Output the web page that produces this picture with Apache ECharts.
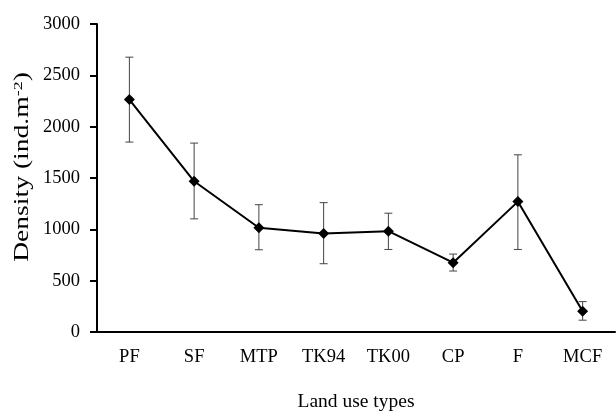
<!DOCTYPE html>
<html>
<head>
<meta charset="utf-8">
<script src="https://cdn.jsdelivr.net/npm/echarts@6/dist/echarts.min.js"></script>
<style>
  html, body { margin: 0; padding: 0; background: #fff; }
  #chart { width: 616px; height: 411px; }
</style>
</head>
<body>
<div id="chart"></div>
<script>
  const landUse = ['PF', 'SF', 'MTP', 'TK94', 'TK00', 'CP', 'F', 'MCF']
  const density = [2264, 1468, 1015, 959, 982, 675, 1270, 202]
  const errLow = [1850, 1102, 801, 665, 804, 594, 804, 115]
  const errHigh = [2677, 1840, 1240, 1260, 1157, 759, 1726, 296]
  const yTicks = [0, 500, 1000, 1500, 2000, 2500, 3000]

  const font = 'Liberation Serif'
  const chart = echarts.init(document.getElementById('chart'))

  const errData = landUse.map((c, i) => [i, errLow[i], errHigh[i]])

  const option = {
    animation: false,
    backgroundColor: '#fff',
    grid: { left: 97, right: 1, top: 24, bottom: 79, outerBoundsMode: 'none' },
    // y axis title is a bit stretched in the original, so draw it as graphic text
    graphic: [
      {
        type: 'text',
        x: 23,
        y: 167,
        rotation: Math.PI / 2,
        scaleX: 1.38,
        style: {
          text: '{a|Density (ind.m}{s|-2}{a|)}',
          align: 'center',
          verticalAlign: 'middle',
          rich: {
            a: { fontFamily: font, fontSize: 20, fill: '#000' },
            s: { fontFamily: font, fontSize: 13, fill: '#000', verticalAlign: 'top', padding: [0, 0, 9, 0] }
          }
        }
      }
    ],
    xAxis: {
      type: 'category',
      data: landUse,
      name: 'Land use types',
      nameLocation: 'middle',
      nameGap: 60,
      nameTextStyle: { fontFamily: font, fontSize: 19.5, color: '#000' },
      axisLine: { lineStyle: { color: '#000', width: 2 } },
      axisTick: { length: 6, lineStyle: { color: '#000', width: 2 } },
      axisLabel: { fontFamily: font, fontSize: 18.5, color: '#000', margin: 16 }
    },
    yAxis: {
      type: 'value',
      min: yTicks[0],
      max: yTicks[yTicks.length - 1],
      interval: 500,
      splitLine: { show: false },
      axisLine: { show: true, lineStyle: { color: '#000', width: 2 } },
      axisTick: { show: true, length: 7, lineStyle: { color: '#000', width: 2 } },
      axisLabel: {
        fontFamily: font,
        fontSize: 18.5,
        color: '#000',
        margin: 17,
        formatter: v => String(v)
      }
    },
    series: [
      {
        type: 'custom',
        data: errData,
        z: 1,
        renderItem: (params, api) => {
          const lo = api.coord([api.value(0), api.value(1)])
          const hi = api.coord([api.value(0), api.value(2)])
          const w = 4
          const style = { stroke: '#444', lineWidth: 1 }
          return {
            type: 'group',
            children: [
              { type: 'line', shape: { x1: hi[0], y1: hi[1], x2: lo[0], y2: lo[1] }, style },
              { type: 'line', shape: { x1: hi[0] - w, y1: hi[1], x2: hi[0] + w, y2: hi[1] }, style },
              { type: 'line', shape: { x1: lo[0] - w, y1: lo[1], x2: lo[0] + w, y2: lo[1] }, style }
            ]
          }
        }
      },
      {
        type: 'line',
        data: density,
        z: 2,
        symbol: 'diamond',
        symbolSize: 11,
        lineStyle: { color: '#000', width: 2 },
        itemStyle: { color: '#000' }
      }
    ]
  }

  chart.setOption(option)
</script>
</body>
</html>
